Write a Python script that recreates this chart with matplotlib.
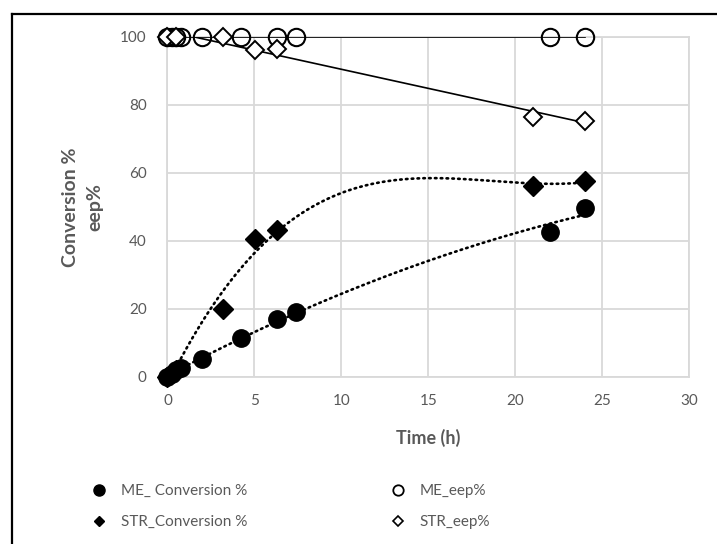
import matplotlib
matplotlib.use("Agg")
import matplotlib.pyplot as plt
import numpy as np
from matplotlib.lines import Line2D

# ---- data ----
me_time = [0, 0.25, 0.5, 0.75, 2, 4.25, 6.3, 7.4, 22, 24]
me_conversion = [0, 1.0, 2.0, 2.5, 5.2, 11.5, 17.2, 19.0, 42.5, 49.8]
me_eep = [100, 100, 100, 100, 100, 100, 100, 100, 100, 100]

str_time = [0, 0.5, 3.2, 5.05, 6.32, 21, 24]
str_conversion = [0, 2.0, 20.1, 40.5, 43.2, 56.2, 57.7]
str_eep = [100, 100, 100, 96.2, 96.5, 76.6, 75.4]

x_ticks = [0, 5, 10, 15, 20, 25, 30]
y_ticks = [0, 20, 40, 60, 80, 100]

GRAY = "#595959"
GRID = "#d9d9d9"
FONT = "Lato"


def trend(x, y, order):
    """Excel-like polynomial trendline over the data range."""
    coeffs = np.polyfit(x, y, order)
    xs = np.linspace(min(x), max(x), 300)
    return xs, np.polyval(coeffs, xs)


fig = plt.figure(figsize=(7.17, 5.44), dpi=100)
ax = fig.add_axes([0.2336, 0.307, 0.961 - 0.2336, 0.932 - 0.307])

dotted = dict(color="black", linewidth=1.9, linestyle=(0, (0.6, 1.6)),
              dash_capstyle="round", zorder=3)

xs, ys = trend(me_time, me_conversion, 2)
ax.plot(xs, ys, **dotted)
xs, ys = trend(str_time, str_conversion, 3)
ax.plot(xs, ys, **dotted)

xs, ys = trend(me_time, me_eep, 1)
ax.plot(xs, ys, color="black", linewidth=1.2, zorder=3)
xs, ys = trend(str_time, str_eep, 1)
ax.plot(xs, ys, color="black", linewidth=1.2, zorder=3)

ax.plot(me_time, me_conversion, "o", color="black", markersize=12.5,
        linestyle="none", zorder=4, clip_on=False)
ax.plot(str_time, str_conversion, "D", color="black", markersize=10,
        linestyle="none", zorder=4, clip_on=False)
ax.plot(me_time, me_eep, "o", markerfacecolor="none", markeredgecolor="black",
        markeredgewidth=1.5, markersize=12.5, linestyle="none", zorder=5,
        clip_on=False)
ax.plot(str_time, str_eep, "D", markerfacecolor="white", markeredgecolor="black",
        markeredgewidth=1.4, markersize=9.5, linestyle="none", zorder=5,
        clip_on=False)

ax.set_xlim(0, 30)
ax.set_ylim(0, 100)
ax.set_xticks(x_ticks)
ax.set_yticks(y_ticks)
ax.grid(True, color=GRID, linewidth=1.3)
ax.set_axisbelow(True)
for side in ax.spines.values():
    side.set_color(GRID)
    side.set_linewidth(1.3)
ax.tick_params(axis="x", length=0, colors=GRAY, labelsize=11, pad=12)
ax.tick_params(axis="y", length=0, colors=GRAY, labelsize=11, pad=15)
for lab in ax.get_xticklabels() + ax.get_yticklabels():
    lab.set_fontfamily(FONT)

ax.set_xlabel("Time (h)", fontsize=13, fontweight="bold", color=GRAY,
              fontfamily=FONT, labelpad=15)
ax.set_ylabel("Conversion %\neep%", fontsize=14, fontweight="bold",
              color=GRAY, fontfamily=FONT, labelpad=12, linespacing=1.5)

handles = [
    Line2D([], [], marker="o", color="black", linestyle="none", markersize=8),
    Line2D([], [], marker="D", color="black", linestyle="none", markersize=5.5),
    Line2D([], [], marker="o", markerfacecolor="none", markeredgecolor="black",
           markeredgewidth=1.3, linestyle="none", markersize=7.5),
    Line2D([], [], marker="D", markerfacecolor="none", markeredgecolor="black",
           markeredgewidth=1.2, linestyle="none", markersize=5.5),
]
labels = ["ME_ Conversion %", "STR_Conversion %", "ME_eep%", "STR_eep%"]
leg = fig.legend(handles, labels, ncol=2, loc="center left",
                 bbox_to_anchor=(0.098, 0.069), frameon=False,
                 columnspacing=8.8, handletextpad=0.45, labelspacing=1.1,
                 prop={"family": FONT, "size": 11})
for t in leg.get_texts():
    t.set_color(GRAY)

# outer chart border (left and top edges only are visible in the crop)
fig.add_artist(Line2D([0.0167, 0.0167], [0, 1 - 14 / 544], color="black",
                      linewidth=1.6, transform=fig.transFigure))
fig.add_artist(Line2D([0.0167, 1.0], [1 - 14 / 544, 1 - 14 / 544],
                      color="black", linewidth=1.6, transform=fig.transFigure))

fig.savefig("out.png", dpi=100)
